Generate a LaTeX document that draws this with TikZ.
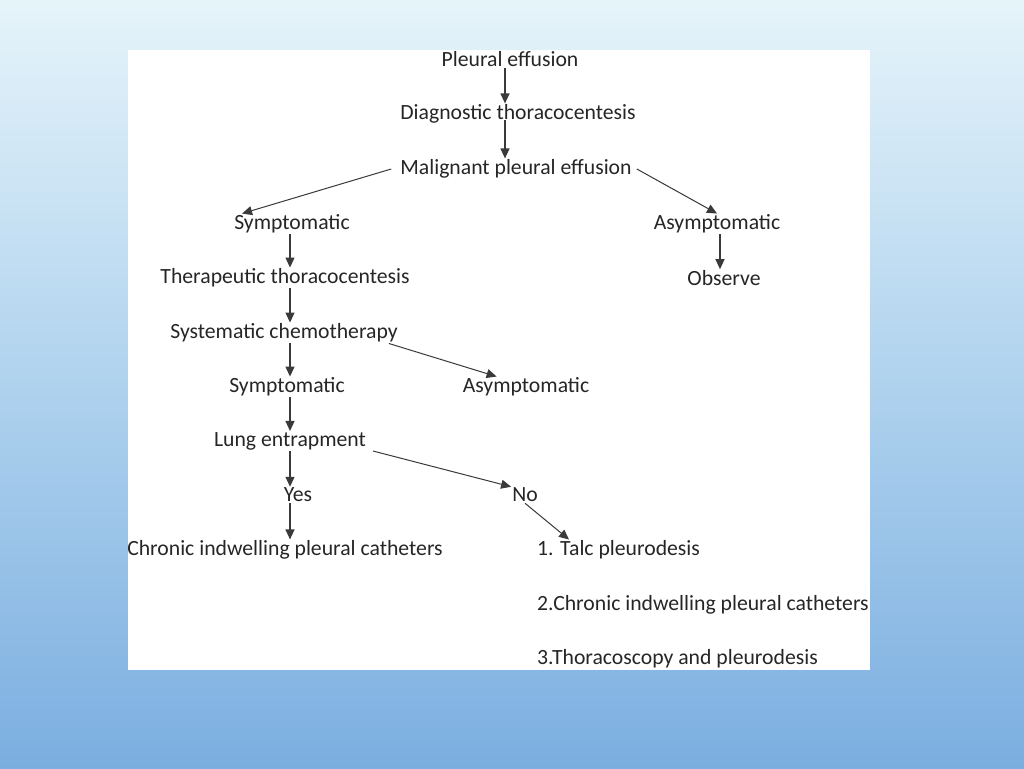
\documentclass[tikz,border=0pt]{standalone}
\usepackage{fontspec}
\setmainfont{Carlito}
\usetikzlibrary{arrows.meta,calc}
\definecolor{bgtop}{HTML}{E6F4FA}
\definecolor{bgmid}{HTML}{AFD2EE}
\definecolor{bgbot}{HTML}{7BAEE0}
\definecolor{txt}{HTML}{262626}
\definecolor{ln}{HTML}{3A3A3A}
\begin{document}
\begin{tikzpicture}[x=1pt,y=-1pt,
  lbl/.style={font=\fontsize{21.7}{24}\selectfont, text=txt, inner sep=1pt, anchor=center},
  lbll/.style={lbl, anchor=west},
  arr/.style={draw=ln, line width=1.2pt, -{Triangle[length=10pt,width=9pt]}},
  darr/.style={arr, line width=1pt}]
\useasboundingbox (0,0) rectangle (1024,768);
\shade[top color=bgtop, bottom color=bgbot, middle color=bgmid] (0,0) rectangle (1024,768);
\fill[white] (128,50) rectangle (870,670);
\coordinate (colC) at (505,0);
\coordinate (colL) at (290,0);
\coordinate (colR) at (720,0);
\node[lbl] (pe) at (510,59) {Pleural effusion};
\node[lbl] (dt) at (518,114) {Diagnostic thoracocentesis};
\node[lbl] (mpe) at (516,169) {Malignant pleural effusion};
\node[lbl] (sym1) at (292,224) {Symptomatic};
\node[lbl] (asym1) at (717,224) {Asymptomatic};
\node[lbl] (tt) at (285,278) {Therapeutic thoracocentesis};
\node[lbl] (obs) at (724,278) {Observe};
\node[lbl] (sc) at (284,333) {Systematic chemotherapy};
\node[lbl] (sym2) at (287,387) {Symptomatic};
\node[lbl] (asym2) at (526,387) {Asymptomatic};
\node[lbl] (le) at (290,441) {Lung entrapment};
\node[lbl] (yes) at (298,495) {Yes};
\node[lbl] (no) at (525,495) {No};
\node[lbl] (cic) at (285,550) {Chronic indwelling pleural catheters};
\node[lbll] (talc) at (536,550) {1. Talc pleurodesis};
\node[lbll] (cic2) at (536,605) {2.Chronic indwelling pleural catheters};
\node[lbll] (thor) at (536,659) {3.Thoracoscopy and pleurodesis};
% connectors
\draw[arr] (pe.south -| colC) -- (dt.north -| colC);
\draw[arr] ([yshift=-6pt]dt.center -| colC) -- (mpe.north -| colC);
\draw[darr] ([xshift=-8pt]mpe.west) -- ([xshift=9pt]sym1.north west);
\draw[darr] ([xshift=4pt]mpe.east) -- (asym1.north);
\draw[arr] (sym1.south -| colL) -- (tt.north -| colL);
\draw[arr] (asym1.south -| colR) -- (obs.north -| colR);
\draw[arr] (tt.south -| colL) -- (sc.north -| colL);
\draw[darr] ([xshift=-10pt]sc.south east) -- ([xshift=35pt]asym2.north west);
\draw[arr] (sc.south -| colL) -- (sym2.north -| colL);
\draw[arr] (sym2.south -| colL) -- (le.north -| colL);
\draw[arr] (le.south -| colL) -- (yes.north -| colL);
\draw[darr] ([xshift=6pt]le.south east) -- (no.north west);
\draw[arr] (yes.south -| colL) -- (cic.north -| colL);
\draw[darr] (no.south) -- ([xshift=33pt]talc.north west);
\end{tikzpicture}
\end{document}
